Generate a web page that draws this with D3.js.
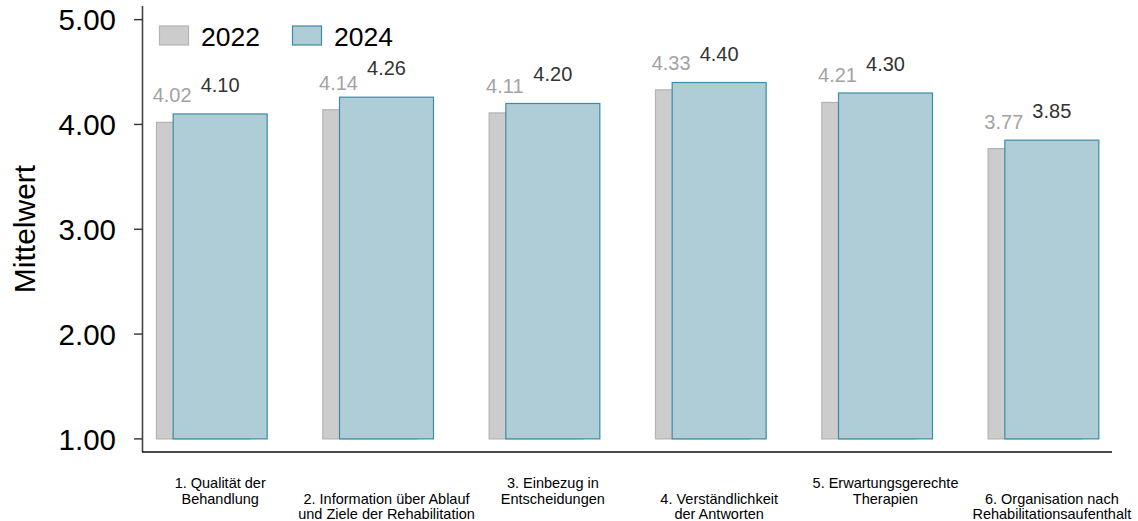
<!DOCTYPE html>
<html>
<head>
<meta charset="utf-8">
<script src="https://cdn.jsdelivr.net/npm/d3@7"></script>
<style>
  html, body { margin: 0; padding: 0; background: #fff; }
  svg { display: block; font-family: "Liberation Sans", Arial, sans-serif; }
</style>
</head>
<body>
<svg id="chart" width="1138" height="521"></svg>
<script>
// Survey categories (two-line labels)
const categories = [
  ["1. Qualität der", "Behandlung"],
  ["2. Information über Ablauf", "und Ziele der Rehabilitation"],
  ["3. Einbezug in", "Entscheidungen"],
  ["4. Verständlichkeit", "der Antworten"],
  ["5. Erwartungsgerechte", "Therapien"],
  ["6. Organisation nach", "Rehabilitationsaufenthalt"]
];
const values2022 = [4.02, 4.14, 4.11, 4.33, 4.21, 3.77];
const values2024 = [4.10, 4.26, 4.20, 4.40, 4.30, 3.85];
const seriesNames = ["2022", "2024"];
const yTicks = [1, 2, 3, 4, 5];

const svg = d3.select("#chart");
const keys = categories.map((c, i) => i);

const x = d3.scaleBand().domain(keys).range([137, 1135]).paddingInner(0).paddingOuter(0);
const y = d3.scaleLinear().domain([0.875, 5.13]).range([452, 6]);

const barW = 94;
const shift = 16.7;
const base = 1;

const colGrayFill = "#cccccc", colGrayStroke = "#b3b3b3";
const colBlueFill = "#aecdd7", colBlueStroke = "#3d8ca3";

const cx = i => x(i) + x.bandwidth() / 2;

// 2022 bars (behind)
svg.append("g").selectAll("rect").data(values2022).join("rect")
  .attr("x", (d, i) => cx(i) - barW / 2 - shift)
  .attr("y", d => y(d))
  .attr("width", barW)
  .attr("height", d => y(base) - y(d))
  .attr("fill", colGrayFill)
  .attr("stroke", colGrayStroke)
  .attr("stroke-width", 1.2);

// 2024 bars (front)
svg.append("g").selectAll("rect").data(values2024).join("rect")
  .attr("x", (d, i) => cx(i) - barW / 2)
  .attr("y", d => y(d))
  .attr("width", barW)
  .attr("height", d => y(base) - y(d))
  .attr("fill", colBlueFill)
  .attr("stroke", colBlueStroke)
  .attr("stroke-width", 1.2);

// Value labels
svg.append("g").selectAll("text").data(values2022).join("text")
  .attr("x", (d, i) => cx(i) - 48)
  .attr("y", d => y(d) - 20)
  .attr("text-anchor", "middle")
  .attr("font-size", 20)
  .attr("fill", "#a3a3a3")
  .text(d => d.toFixed(2));

svg.append("g").selectAll("text").data(values2024).join("text")
  .attr("x", (d, i) => cx(i))
  .attr("y", d => y(d) - 22)
  .attr("text-anchor", "middle")
  .attr("font-size", 20)
  .attr("fill", "#333333")
  .text(d => d.toFixed(2));

// Y axis
const yAxis = svg.append("g");
yAxis.append("line")
  .attr("x1", 142.5).attr("x2", 142.5)
  .attr("y1", y.range()[1]).attr("y2", y.range()[0])
  .attr("stroke", "#444").attr("stroke-width", 1.6);
yAxis.selectAll("line.tick").data(yTicks).join("line")
  .attr("class", "tick")
  .attr("x1", 134).attr("x2", 142.5)
  .attr("y1", d => y(d)).attr("y2", d => y(d))
  .attr("stroke", "#333").attr("stroke-width", 1.4);
yAxis.selectAll("text").data(yTicks).join("text")
  .attr("x", 116)
  .attr("y", d => y(d))
  .attr("dy", "0.36em")
  .attr("text-anchor", "end")
  .attr("font-size", 29.5)
  .attr("fill", "#000")
  .text(d => d.toFixed(2));

svg.append("text")
  .attr("transform", `translate(35, ${(y.range()[0] + y.range()[1]) / 2}) rotate(-90)`)
  .attr("text-anchor", "middle")
  .attr("font-size", 30)
  .attr("fill", "#000")
  .text("Mittelwert");

// X axis line
svg.append("line")
  .attr("x1", 142).attr("x2", 1112)
  .attr("y1", 452).attr("y2", 452)
  .attr("stroke", "#111").attr("stroke-width", 1.6);

// Category labels, alternating heights
const xl = svg.append("g").selectAll("text").data(categories).join("text")
  .attr("text-anchor", "middle")
  .attr("font-size", 14.5)
  .attr("fill", "#000")
  .attr("transform", (d, i) => `translate(${cx(i)}, ${i % 2 === 0 ? 488 : 503.5})`);
xl.each(function (d) {
  const t = d3.select(this);
  d.forEach((line, j) => t.append("tspan").attr("x", 0).attr("y", j * 15.5).text(line));
});

// Legend
const legend = svg.append("g");
const legendItems = [
  { name: seriesNames[0], fill: colGrayFill, stroke: colGrayStroke, x: 159 },
  { name: seriesNames[1], fill: colBlueFill, stroke: colBlueStroke, x: 292 }
];
legend.selectAll("rect").data(legendItems).join("rect")
  .attr("x", d => d.x + 0.5).attr("y", 26)
  .attr("width", 29).attr("height", 19)
  .attr("fill", d => d.fill).attr("stroke", d => d.stroke).attr("stroke-width", 1.2);
legend.selectAll("text").data(legendItems).join("text")
  .attr("x", d => d.x + 42).attr("y", 45.5)
  .attr("font-size", 26.5)
  .attr("fill", "#000")
  .text(d => d.name);
</script>
</body>
</html>
